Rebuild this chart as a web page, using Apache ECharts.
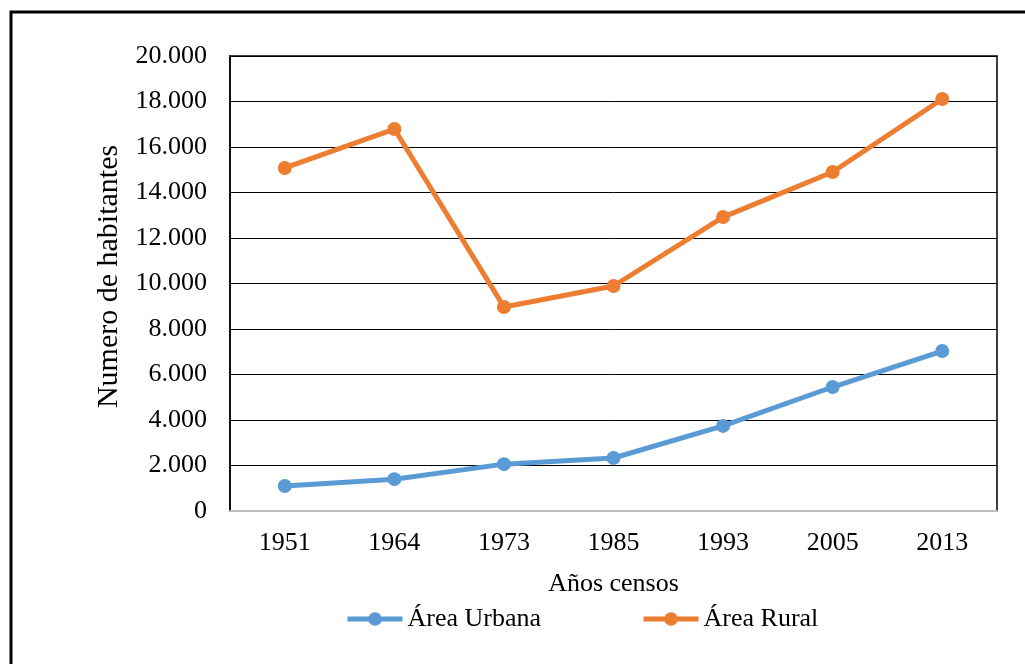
<!DOCTYPE html>
<html>
	<head>
		<meta charset="utf-8">
		<title>Numero de habitantes</title>
		<script src="https://cdn.jsdelivr.net/npm/echarts@6/dist/echarts.min.js"></script>
		<style>
			html, body { margin: 0; padding: 0; background: #fff; }
			#main { width: 1025px; height: 664px; }
		</style>
	</head>
	<body>
		<div id="main"></div>
		<script>
			// datos del censo
			var years = ['1951', '1964', '1973', '1985', '1993', '2005', '2013'];
			var urbana = [1100, 1400, 2060, 2330, 3740, 5450, 7030];
			var rural = [15080, 16790, 8970, 9890, 12920, 14900, 18110];
			var serieNames = ['Área Urbana', 'Área Rural'];

			var fuente = '"Liberation Serif", "Times New Roman", serif';

			var chart = echarts.init(document.getElementById('main'));
			var option = {
				animation: false,
				textStyle: { fontFamily: fuente },
				color: ['#5B9BD5', '#ED7D31'],
				// marco exterior
				graphic: [{
					type: 'rect',
					shape: { x: 11, y: 12, width: 1100, height: 800 },
					style: { fill: 'none', stroke: '#000', lineWidth: 3 },
					silent: true
				}],
				grid: { left: 230, right: 28, top: 56, bottom: 153, show: true, borderColor: '#000', borderWidth: 1.5 },
				legend: {
					bottom: 27,
					left: 340,
					itemWidth: 55,
					itemHeight: 17,
					itemGap: 100,
					lineStyle: { width: 5 },
					textStyle: { fontFamily: fuente, fontSize: 26, color: '#000' },
					data: serieNames
				},
				xAxis: {
					type: 'category',
					data: years,
					name: 'Años censos',
					nameLocation: 'middle',
					nameGap: 60,
					nameTextStyle: { fontFamily: fuente, fontSize: 26, color: '#000' },
					axisLine: { lineStyle: { color: '#bfbfbf', width: 2 } },
					axisTick: { show: false },
					axisLabel: { fontFamily: fuente, fontSize: 26, color: '#000', margin: 19 }
				},
				yAxis: {
					type: 'value',
					min: 0,
					max: 20000,
					interval: 2000,
					name: 'Numero de habitantes',
					nameLocation: 'middle',
					nameGap: 106,
					nameTextStyle: { fontFamily: fuente, fontSize: 30, color: '#000', padding: [0, 0, 0, 14] },
					axisLine: { show: true, lineStyle: { color: '#000', width: 1.5 } },
					axisTick: { show: false },
					splitLine: { lineStyle: { color: '#000', width: 1 } },
					axisLabel: {
						fontFamily: fuente, fontSize: 26, color: '#000', margin: 23,
						formatter: function (v) {
							return String(v).replace(/\B(?=(\d{3})+(?!\d))/g, '.');
						}
					}
				},
				series: [{
					name: serieNames[0],
					type: 'line',
					data: urbana,
					symbol: 'circle',
					symbolSize: 14,
					lineStyle: { width: 5 }
				}, {
					name: serieNames[1],
					type: 'line',
					data: rural,
					symbol: 'circle',
					symbolSize: 14,
					lineStyle: { width: 5 }
				}]
			};
			chart.setOption(option);
		</script>
	</body>
</html>
